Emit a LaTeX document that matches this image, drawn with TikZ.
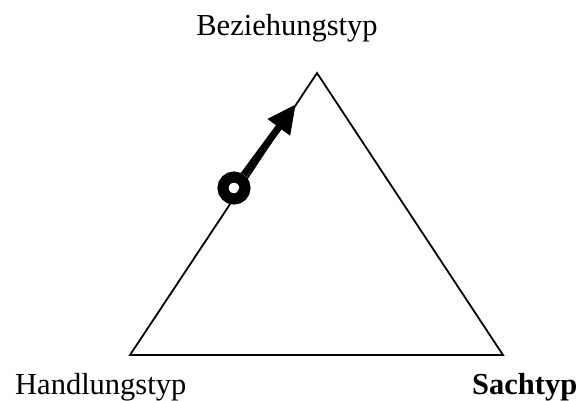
\documentclass[tikz,border=0pt]{standalone}
\usepackage{fontspec}
\setmainfont{Liberation Serif}
\usetikzlibrary{arrows.meta}
\begin{document}
\begin{tikzpicture}[x=1pt,y=-1pt,
  lbl/.style={inner sep=0pt,font=\fontsize{30.5}{36}\selectfont},
  tri/.style={draw=black,line width=1.8pt,line join=miter},
  ring/.style={circle,draw=black,line width=11pt,minimum size=22pt,inner sep=0pt},
  bigarrow/.style={line width=7pt,-{Triangle[length=29pt,width=26pt]}}]
\useasboundingbox (0,0) rectangle (579,400);
\coordinate (top) at (317,73);
\coordinate (bl) at (130,355);
\coordinate (br) at (503,355);
\draw[tri] (bl) -- (top) -- (br) -- cycle;
\node[ring] (c) at (234,188) {};
\coordinate (tip) at (296,104);
\draw[bigarrow] (c) -- (tip);
\node[lbl,anchor=base] (bez) at (287,35) {Beziehungstyp};
\node[lbl,anchor=base west] (hand) at (15,394) {Handlungstyp};
\node[lbl,anchor=base west] (sach) at (472,394) {\bfseries Sachtyp};
\end{tikzpicture}
\end{document}
